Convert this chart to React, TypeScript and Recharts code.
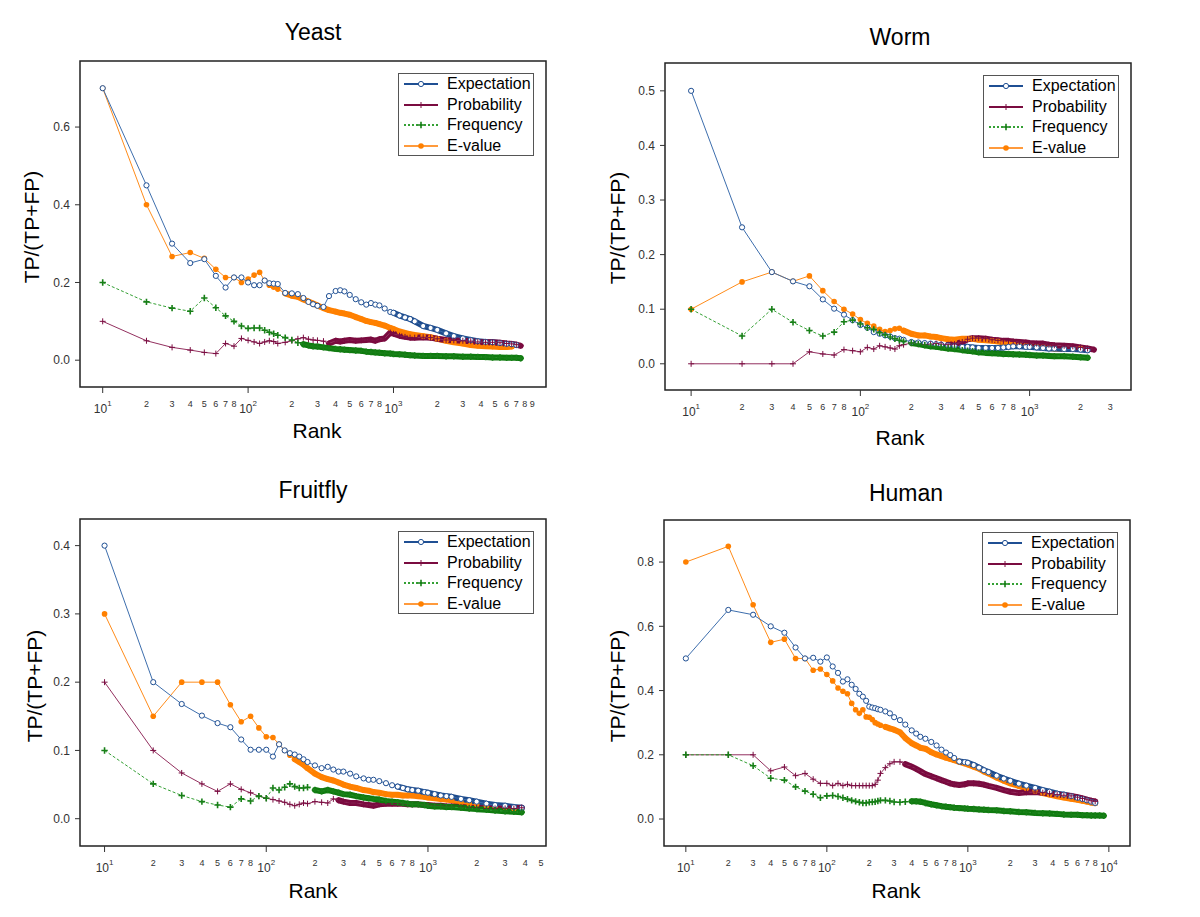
import { LineChart, Line, XAxis, YAxis, ReferenceArea } from 'recharts'

const FONT = '"Liberation Sans", Arial, sans-serif'

// ---- Yeast ----
const yeastRank = [10, 20, 30, 40, 50, 60, 70, 80, 90, 100, 110, 120, 130, 140, 150, 160, 180, 200, 220, 240, 260, 280, 300, 330, 360, 400, 430, 460, 500, 550, 600, 650, 700, 750, 800, 870, 950, 1000, 1100, 1200, 1300, 1400, 1600, 1800, 2000, 2300, 2600, 3000, 3400, 3800, 4300, 4800, 5400, 6000, 6500, 7000, 7500, 8000]
const yeastExpectation = [0.70, 0.45, 0.30, 0.25, 0.26, 0.217, 0.187, 0.213, 0.213, 0.20, 0.193, 0.193, 0.205, 0.198, 0.197, 0.196, 0.173, 0.172, 0.170, 0.160, 0.150, 0.144, 0.14, 0.137, 0.165, 0.178, 0.18, 0.177, 0.168, 0.157, 0.149, 0.143, 0.147, 0.143, 0.141, 0.133, 0.124, 0.122, 0.115, 0.110, 0.106, 0.10, 0.088, 0.083, 0.078, 0.069, 0.062, 0.056, 0.052, 0.049, 0.047, 0.046, 0.044, 0.042, 0.041, 0.039, null, null]
const yeastProbability = [0.10, 0.05, 0.033, 0.026, 0.02, 0.017, 0.043, 0.036, 0.056, 0.051, 0.047, 0.043, 0.047, 0.05, 0.048, 0.043, 0.046, 0.05, 0.055, 0.058, 0.054, 0.052, 0.051, 0.049, 0.043, 0.05, 0.048, 0.05, 0.052, 0.05, 0.051, 0.052, 0.053, 0.05, 0.054, 0.056, 0.071, 0.068, 0.063, 0.06, 0.058, 0.058, 0.059, 0.058, 0.055, 0.052, 0.051, 0.05, 0.049, 0.047, 0.046, 0.046, 0.045, 0.043, 0.042, 0.04, 0.037, null]
const yeastFrequency = [0.20, 0.15, 0.134, 0.126, 0.16, 0.135, 0.114, 0.10, 0.088, 0.082, 0.083, 0.083, 0.077, 0.072, 0.068, 0.064, 0.058, 0.052, 0.045, 0.041, 0.038, 0.036, 0.035, 0.033, 0.031, 0.029, 0.028, 0.027, 0.026, 0.025, 0.024, 0.022, 0.021, 0.02, 0.019, 0.018, 0.017, 0.016, 0.015, 0.014, 0.013, 0.012, 0.011, 0.011, 0.011, 0.010, 0.010, 0.009, 0.009, 0.0085, 0.008, 0.007, 0.007, 0.006, 0.006, 0.006, 0.005, null]
const yeastEvalue = [0.70, 0.40, 0.267, 0.277, 0.262, 0.234, 0.213, 0.213, 0.20, 0.209, 0.219, 0.226, 0.205, 0.193, 0.188, 0.183, 0.172, 0.166, 0.163, 0.156, 0.151, 0.146, 0.141, 0.134, 0.129, 0.125, 0.122, 0.12, 0.117, 0.111, 0.106, 0.101, 0.098, 0.096, 0.093, 0.089, 0.083, 0.08, 0.074, 0.07, 0.067, 0.065, 0.062, 0.059, 0.055, 0.05, 0.046, 0.043, 0.039, 0.037, 0.036, 0.035, 0.034, 0.034, 0.035, null, null, null]
const yeastXTicks = [10, 20, 30, 40, 50, 60, 70, 80, 100, 200, 300, 400, 500, 600, 700, 800, 1000, 2000, 3000, 4000, 5000, 6000, 7000, 8000, 9000]
const yeastYTicks = [0, 0.2, 0.4, 0.6]
// rank from which each curve becomes a solid band of markers
const yeastBandFrom = { expectation: 1000, probability: 360, frequency: 240, evalue: 180 }

// ---- Worm ----
const wormRank = [10, 20, 30, 40, 50, 60, 70, 80, 90, 100, 110, 120, 130, 140, 150, 160, 170, 180, 200, 220, 240, 260, 280, 300, 330, 360, 400, 430, 460, 500, 550, 600, 650, 700, 750, 800, 870, 950, 1000, 1100, 1200, 1300, 1400, 1600, 1800, 2000, 2200, 2400]
const wormExpectation = [0.50, 0.25, 0.168, 0.151, 0.142, 0.118, 0.101, 0.09, 0.08, 0.071, 0.066, 0.058, 0.055, 0.052, 0.05, 0.047, 0.046, 0.044, 0.04, 0.039, 0.038, 0.037, 0.036, 0.035, 0.034, 0.033, 0.031, 0.031, 0.030, 0.029, 0.029, 0.029, 0.029, 0.030, 0.031, 0.032, 0.032, 0.031, 0.031, 0.030, 0.029, 0.028, 0.028, 0.027, 0.027, 0.026, 0.025, null]
const wormProbability = [0, 0, 0, 0, 0.022, 0.018, 0.016, 0.026, 0.024, 0.022, 0.03, 0.027, 0.033, 0.031, 0.029, 0.027, 0.033, 0.035, 0.038, 0.036, 0.035, 0.036, 0.037, 0.036, 0.035, 0.036, 0.04, 0.045, 0.047, 0.047, 0.046, 0.044, 0.043, 0.042, 0.042, 0.041, 0.040, 0.039, 0.038, 0.037, 0.037, 0.035, 0.034, 0.033, 0.032, 0.030, 0.028, 0.026]
const wormFrequency = [0.10, 0.051, 0.10, 0.076, 0.061, 0.051, 0.058, 0.077, 0.08, 0.073, 0.066, 0.063, 0.057, 0.053, 0.049, 0.046, 0.043, 0.041, 0.038, 0.036, 0.034, 0.032, 0.031, 0.03, 0.028, 0.027, 0.025, 0.024, 0.023, 0.021, 0.020, 0.0195, 0.019, 0.018, 0.018, 0.0175, 0.017, 0.0165, 0.016, 0.015, 0.015, 0.0145, 0.014, 0.014, 0.013, 0.012, 0.011, null]
const wormEvalue = [0.10, 0.15, 0.168, 0.151, 0.161, 0.134, 0.114, 0.10, 0.091, 0.081, 0.074, 0.069, 0.063, 0.059, 0.061, 0.064, 0.065, 0.061, 0.055, 0.052, 0.052, 0.05, 0.049, 0.047, 0.045, 0.044, 0.046, 0.046, 0.046, 0.044, 0.043, 0.042, 0.041, 0.039, 0.037, 0.036, 0.034, 0.033, 0.032, 0.031, 0.030, 0.029, 0.028, 0.027, 0.027, 0.028, null, null]
const wormXTicks = [10, 20, 30, 40, 50, 60, 70, 80, 100, 200, 300, 400, 500, 600, 700, 800, 1000, 2000, 3000]
const wormYTicks = [0, 0.1, 0.2, 0.3, 0.4, 0.5]
const wormBandFrom = { expectation: 400, probability: 330, frequency: 200, evalue: 180 }

// ---- Fruitfly ----
const flyRank = [10, 20, 30, 40, 50, 60, 70, 80, 90, 100, 110, 120, 130, 140, 150, 160, 170, 180, 200, 220, 240, 260, 280, 300, 330, 360, 400, 430, 460, 500, 550, 600, 650, 700, 750, 800, 870, 950, 1000, 1100, 1200, 1300, 1400, 1600, 1800, 2000, 2300, 2600, 3000, 3400, 3800]
const flyExpectation = [0.40, 0.20, 0.168, 0.151, 0.14, 0.134, 0.116, 0.101, 0.101, 0.101, 0.091, 0.109, 0.10, 0.096, 0.094, 0.091, 0.087, 0.083, 0.078, 0.074, 0.076, 0.072, 0.069, 0.069, 0.066, 0.062, 0.059, 0.057, 0.057, 0.055, 0.052, 0.049, 0.047, 0.045, 0.043, 0.042, 0.041, 0.039, 0.038, 0.036, 0.034, 0.033, 0.032, 0.029, 0.027, 0.025, 0.022, 0.020, 0.019, 0.017, 0.016]
const flyProbability = [0.20, 0.10, 0.067, 0.051, 0.04, 0.051, 0.043, 0.038, 0.033, 0.03, 0.028, 0.026, 0.024, 0.021, 0.019, 0.021, 0.023, 0.022, 0.025, 0.024, 0.023, 0.029, 0.027, 0.025, 0.023, 0.023, 0.021, 0.02, 0.019, 0.021, 0.022, 0.022, 0.022, 0.022, 0.021, 0.021, 0.021, 0.02, 0.02, 0.019, 0.019, 0.018, 0.018, 0.017, 0.016, 0.016, 0.015, 0.015, 0.015, 0.015, 0.016]
const flyFrequency = [0.10, 0.051, 0.034, 0.025, 0.02, 0.017, 0.029, 0.026, 0.033, 0.030, 0.045, 0.042, 0.046, 0.051, 0.047, 0.045, 0.045, 0.046, 0.042, 0.04, 0.042, 0.04, 0.038, 0.036, 0.035, 0.033, 0.031, 0.030, 0.029, 0.028, 0.026, 0.025, 0.024, 0.023, 0.022, 0.021, 0.021, 0.020, 0.019, 0.018, 0.018, 0.017, 0.017, 0.016, 0.015, 0.014, 0.013, 0.012, 0.011, 0.010, 0.0095]
const flyEvalue = [0.30, 0.15, 0.20, 0.20, 0.20, 0.167, 0.142, 0.15, 0.133, 0.12, 0.119, 0.109, 0.10, 0.093, 0.087, 0.083, 0.079, 0.074, 0.066, 0.061, 0.058, 0.056, 0.053, 0.05, 0.047, 0.045, 0.042, 0.041, 0.039, 0.038, 0.036, 0.035, 0.035, 0.034, 0.034, 0.034, 0.033, 0.032, 0.031, 0.03, 0.029, 0.028, 0.027, 0.024, 0.022, 0.021, 0.019, 0.018, 0.017, 0.015, null]
const flyXTicks = [10, 20, 30, 40, 50, 60, 70, 80, 100, 200, 300, 400, 500, 600, 700, 800, 1000, 2000, 3000, 4000, 5000]
const flyYTicks = [0, 0.1, 0.2, 0.3, 0.4]
const flyBandFrom = { expectation: 650, probability: 280, frequency: 200, evalue: 150 }

// ---- Human ----
const humanRank = [10, 20, 30, 40, 50, 60, 70, 80, 90, 100, 110, 120, 130, 140, 150, 160, 170, 180, 190, 200, 210, 220, 230, 240, 260, 280, 300, 330, 360, 400, 430, 460, 500, 550, 600, 650, 700, 750, 800, 870, 950, 1000, 1100, 1200, 1300, 1400, 1600, 1800, 2000, 2300, 2600, 3000, 3400, 3800, 4300, 4800, 5400, 6000, 6500, 7000, 7500, 8000, 8600, 9200]
const humanExpectation = [0.50, 0.651, 0.636, 0.60, 0.58, 0.534, 0.50, 0.502, 0.49, 0.503, 0.475, 0.455, 0.428, 0.435, 0.418, 0.405, 0.39, 0.381, 0.368, 0.35, 0.347, 0.345, 0.342, 0.34, 0.335, 0.329, 0.317, 0.308, 0.294, 0.276, 0.266, 0.256, 0.25, 0.24, 0.229, 0.216, 0.207, 0.199, 0.19, 0.179, 0.177, 0.175, 0.168, 0.16, 0.152, 0.146, 0.135, 0.126, 0.119, 0.11, 0.104, 0.097, 0.09, 0.085, 0.079, 0.076, 0.071, 0.066, 0.062, 0.058, 0.054, 0.05, null, null]
const humanProbability = [0.20, 0.20, 0.20, 0.15, 0.162, 0.135, 0.142, 0.124, 0.111, 0.111, 0.104, 0.111, 0.104, 0.108, 0.104, 0.104, 0.104, 0.104, 0.104, 0.104, 0.104, 0.108, 0.121, 0.142, 0.16, 0.172, 0.178, 0.178, 0.171, 0.163, 0.156, 0.149, 0.14, 0.133, 0.127, 0.121, 0.116, 0.111, 0.108, 0.106, 0.108, 0.111, 0.111, 0.11, 0.107, 0.103, 0.097, 0.09, 0.085, 0.081, 0.083, 0.084, 0.082, 0.079, 0.076, 0.074, 0.072, 0.068, 0.064, 0.06, 0.057, 0.055, null, null]
const humanFrequency = [0.20, 0.20, 0.166, 0.127, 0.121, 0.10, 0.087, 0.077, 0.066, 0.072, 0.073, 0.07, 0.066, 0.062, 0.058, 0.055, 0.052, 0.05, 0.05, 0.052, 0.053, 0.054, 0.056, 0.058, 0.058, 0.056, 0.053, 0.052, 0.054, 0.055, 0.055, 0.054, 0.05, 0.046, 0.043, 0.04, 0.038, 0.037, 0.035, 0.034, 0.033, 0.032, 0.031, 0.030, 0.029, 0.028, 0.027, 0.025, 0.024, 0.022, 0.021, 0.019, 0.018, 0.017, 0.016, 0.014, 0.013, 0.013, 0.012, 0.012, 0.011, 0.011, 0.011, 0.01]
const humanEvalue = [0.80, 0.849, 0.667, 0.55, 0.56, 0.50, 0.50, 0.463, 0.467, 0.45, 0.43, 0.408, 0.398, 0.39, 0.36, 0.34, 0.329, 0.34, 0.318, 0.317, 0.31, 0.30, 0.296, 0.292, 0.287, 0.282, 0.278, 0.27, 0.252, 0.236, 0.229, 0.222, 0.219, 0.208, 0.201, 0.196, 0.191, 0.187, 0.183, 0.178, 0.173, 0.17, 0.163, 0.157, 0.148, 0.142, 0.129, 0.119, 0.111, 0.103, 0.095, 0.087, 0.081, 0.076, 0.071, 0.067, 0.063, 0.06, 0.057, 0.054, 0.051, 0.049, null, null]
const humanXTicks = [10, 20, 30, 40, 50, 60, 70, 80, 100, 200, 300, 400, 500, 600, 700, 800, 1000, 2000, 3000, 4000, 5000, 6000, 7000, 8000, 10000]
const humanYTicks = [0, 0.2, 0.4, 0.6, 0.8]
const humanBandFrom = { expectation: 870, probability: 360, frequency: 400, evalue: 260 }

const LEGEND_ORDER = ['expectation', 'probability', 'frequency', 'evalue']

const STYLES: Record<string, any> = {
  expectation: { name: 'Expectation', line: '#3d6ead', mark: '#1f4f93', band: '#1d4b8c', legend: '#1f4f93', kind: 'open' },
  probability: { name: 'Probability', line: '#93305f', mark: '#7a0c40', band: '#7a0a3e', legend: '#7a0c40', kind: 'plus' },
  frequency: { name: 'Frequency', line: '#34a034', mark: '#177f17', band: '#0e7a0e', legend: '#34a034', kind: 'bold', dash: '3 2' },
  evalue: { name: 'E-value', line: '#ff8c1a', mark: '#ff8000', band: '#ff8000', legend: '#ff9a3c', kind: 'filled' },
}

// drawing order: later ones on top
const DRAW_ORDER = ['evalue', 'expectation', 'probability', 'frequency']

function buildRows(rank: number[], e: any[], p: any[], f: any[], v: any[], bandFrom: Record<string, number>) {
  return rank.map((r, i) => {
    const row: Record<string, any> = { rank: r, expectation: e[i], probability: p[i], frequency: f[i], evalue: v[i] }
    for (const k of LEGEND_ORDER) row[`${k}Band`] = r >= bandFrom[k] ? row[k] : null
    return row
  })
}

function Marker({ kind, color, cx, cy }: { kind: string; color: string; cx: number; cy: number }) {
  if (kind === 'open') return <circle cx={cx} cy={cy} r={2.6} fill="#fff" stroke={color} strokeWidth={1} />
  if (kind === 'filled') return <circle cx={cx} cy={cy} r={2.8} fill={color} />
  const s = kind === 'bold' ? 3.2 : 3
  return (
    <path
      d={`M${cx - s},${cy}H${cx + s}M${cx},${cy - s}V${cy + s}`}
      stroke={color}
      strokeWidth={kind === 'bold' ? 1.6 : 1}
      fill="none"
    />
  )
}

const makeDot = (kind: string, color: string) => (props: any) => {
  const { cx, cy, index, value } = props
  if (value == null || cx == null || cy == null || Number.isNaN(cy)) return <g key={`d${index}`} />
  return (
    <g key={`d${index}`}>
      <Marker kind={kind} color={color} cx={cx} cy={cy} />
    </g>
  )
}

function LogTick(props: any) {
  const { x, y, payload } = props
  const v = payload.value
  const exp = Math.floor(Math.log10(v) + 1e-9)
  const base = Math.pow(10, exp)
  const digit = Math.round(v / base)
  if (digit === 1) {
    return (
      <g>
        <line x1={x} x2={x} y1={y} y2={y + 6} stroke="#333" strokeWidth={1} />
        <text x={x} y={y + 26} textAnchor="middle" fontSize={12} fill="#333" fontFamily={FONT}>
          10<tspan fontSize={8} dy={-7}>{exp}</tspan>
        </text>
      </g>
    )
  }
  return (
    <text x={x} y={y + 20} textAnchor="middle" fontSize={9} fill="#333" fontFamily={FONT}>
      {digit}
    </text>
  )
}

function LegendBox({ left, top }: { left: number; top: number }) {
  return (
    <div
      style={{
        position: 'absolute', left, top, width: 136, height: 83, boxSizing: 'border-box',
        border: '1.5px solid #555', background: '#fff',
      }}
    >
      {LEGEND_ORDER.map((k, i) => {
        const s = STYLES[k]
        return (
          <div key={k} style={{ position: 'absolute', left: 0, top: 1 + i * 20.7, height: 18, width: 140 }}>
            <svg width={40} height={18} style={{ position: 'absolute', left: 3, top: 0 }}>
              <line x1={2} x2={36} y1={9} y2={9} stroke={s.legend} strokeWidth={2} strokeDasharray={s.dash ? '2 2' : undefined} />
              <Marker kind={s.kind} color={s.mark} cx={19} cy={9} />
            </svg>
            <span style={{ position: 'absolute', left: 48, top: -1, fontSize: 16, lineHeight: '20px', color: '#000', whiteSpace: 'nowrap' }}>
              {s.name}
            </span>
          </div>
        )
      })}
    </div>
  )
}

function Label({ x, y, size, text, rotate }: { x: number; y: number; size: number; text: string; rotate?: boolean }) {
  return (
    <div
      style={{
        position: 'absolute', left: x, top: y, fontSize: size, color: '#000', whiteSpace: 'nowrap', lineHeight: 1,
        transform: `translate(-50%, -50%)${rotate ? ' rotate(-90deg)' : ''}`,
      }}
    >
      {text}
    </div>
  )
}

function Panel(p: any) {
  const { left, top, height, title, titleAt, rankAt, yLabelAt, rows, xDomain, yDomain, xTicks, yTicks, box } = p
  const margin = { top: box.top, left: box.left - 40, right: 600 - box.right, bottom: height - box.bottom - 30 }
  return (
    <div style={{ position: 'absolute', left, top, width: 600, height }}>
      <LineChart width={600} height={height} data={rows} margin={margin} style={{ fontFamily: FONT }}>
        <XAxis
          dataKey="rank"
          type="number"
          scale="log"
          domain={xDomain}
          allowDataOverflow
          ticks={xTicks}
          interval={0}
          tick={<LogTick />}
          tickLine={false}
          axisLine={false}
          tickSize={0}
          tickMargin={0}
          height={30}
        />
        <YAxis
          type="number"
          domain={yDomain}
          allowDataOverflow
          ticks={yTicks}
          interval={0}
          tickFormatter={(v: number) => v.toFixed(1)}
          tick={{ fontSize: 12, fill: '#333', fontFamily: FONT }}
          tickLine={{ stroke: '#333' }}
          tickSize={5}
          tickMargin={5}
          axisLine={false}
          width={40}
        />
        {DRAW_ORDER.flatMap((k) => {
          const s = STYLES[k]
          return [
            <Line
              key={`${k}Band`}
              dataKey={`${k}Band`}
              type="linear"
              stroke={s.band}
              strokeWidth={6}
              strokeLinecap="round"
              strokeLinejoin="round"
              dot={false}
              activeDot={false}
              legendType="none"
              isAnimationActive={false}
            />,
            <Line
              key={k}
              dataKey={k}
              name={s.name}
              type="linear"
              stroke={s.line}
              strokeWidth={1}
              strokeDasharray={s.dash}
              dot={makeDot(s.kind, s.mark)}
              activeDot={false}
              isAnimationActive={false}
            />,
          ]
        })}
        <ReferenceArea
          x1={xDomain[0]}
          x2={xDomain[1]}
          y1={yDomain[0]}
          y2={yDomain[1]}
          fill="none"
          stroke="#222"
          strokeWidth={1.5}
          ifOverflow="visible"
        />
      </LineChart>
      <LegendBox left={box.right - 12 - 136} top={box.top + 12} />
      <Label x={titleAt[0]} y={titleAt[1]} size={23} text={title} />
      <Label x={rankAt[0]} y={rankAt[1]} size={21} text="Rank" />
      <Label x={yLabelAt[0]} y={yLabelAt[1]} size={21} text="TP/(TP+FP)" rotate />
    </div>
  )
}

export default function App() {
  return (
    <div style={{ position: 'absolute', left: 0, top: 0, width: 1200, height: 917, background: '#fff', fontFamily: FONT }}>
      <Panel
        left={0} top={0} height={458} title="Yeast"
        titleAt={[313, 32]} rankAt={[317, 430]} yLabelAt={[31, 227]}
        rows={buildRows(yeastRank, yeastExpectation, yeastProbability, yeastFrequency, yeastEvalue, yeastBandFrom)}
        xDomain={[6.98, 11194]} yDomain={[-0.069, 0.77]}
        xTicks={yeastXTicks} yTicks={yeastYTicks}
        box={{ left: 80, top: 61, right: 546, bottom: 387 }}
      />
      <Panel
        left={600} top={0} height={458} title="Worm"
        titleAt={[300, 37]} rankAt={[300, 437]} yLabelAt={[17, 228]}
        rows={buildRows(wormRank, wormExpectation, wormProbability, wormFrequency, wormEvalue, wormBandFrom)}
        xDomain={[7.01, 3972]} yDomain={[-0.048, 0.551]}
        xTicks={wormXTicks} yTicks={wormYTicks}
        box={{ left: 65, top: 63, right: 531, bottom: 390 }}
      />
      <Panel
        left={0} top={460} height={457} title="Fruitfly"
        titleAt={[313, 30]} rankAt={[313, 430]} yLabelAt={[34, 226]}
        rows={buildRows(flyRank, flyExpectation, flyProbability, flyFrequency, flyEvalue, flyBandFrom)}
        xDomain={[7.05, 5370]} yDomain={[-0.04, 0.439]}
        xTicks={flyXTicks} yTicks={flyYTicks}
        box={{ left: 80, top: 59, right: 546, bottom: 386 }}
      />
      <Panel
        left={600} top={460} height={457} title="Human"
        titleAt={[306, 33]} rankAt={[296, 430]} yLabelAt={[17, 226]}
        rows={buildRows(humanRank, humanExpectation, humanProbability, humanFrequency, humanEvalue, humanBandFrom)}
        xDomain={[7.0, 14125]} yDomain={[-0.084, 0.931]}
        xTicks={humanXTicks} yTicks={humanYTicks}
        box={{ left: 64, top: 60, right: 530, bottom: 386 }}
      />
    </div>
  )
}
